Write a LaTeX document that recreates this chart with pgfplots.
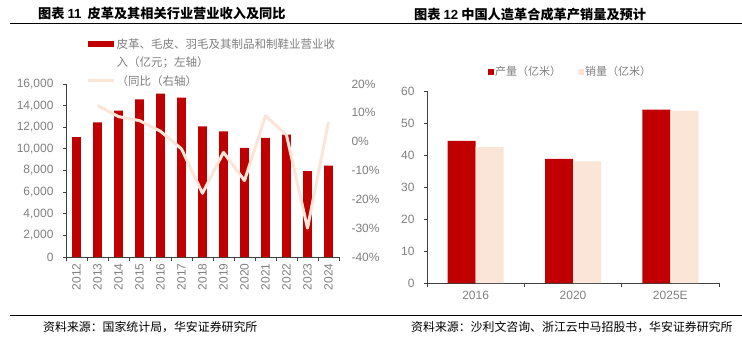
\documentclass[border=0pt]{standalone}
\usepackage{pgfplots}
\pgfplotsset{compat=1.18}
\usepackage{fontspec}
\setmainfont{Liberation Sans}
\newfontfamily\cjk{Noto Sans CJK SC}
\definecolor{barred}{HTML}{C00000}
\definecolor{peach}{HTML}{FBE5D6}
\definecolor{tickgrey}{HTML}{7F7F7F}
\definecolor{axisgrey}{HTML}{404040}
\begin{document}
\begin{tikzpicture}
\path[use as bounding box] (0pt,0pt) rectangle (742pt,341pt);
% titles
\node[anchor=west, inner sep=0pt, font=\cjk\bfseries\fontsize{13.2}{15}\selectfont] at (38pt,327pt) {图表 {\rmfamily\bfseries 11}\ \ 皮革及其相关行业营业收入及同比};
\node[anchor=west, inner sep=0pt, font=\cjk\bfseries\fontsize{13.2}{15}\selectfont] at (414pt,327pt) {图表 {\rmfamily\bfseries 12} 中国人造革合成革产销量及预计};
\draw[line width=0.9pt] (10pt,318pt) -- (742pt,318pt);
\draw[line width=0.9pt] (10pt,26pt) -- (742pt,26pt);
\node[anchor=west, inner sep=0pt, font=\cjk\fontsize{11.9}{14}\selectfont] at (43pt,14pt) {资料来源：国家统计局，华安证券研究所};
\node[anchor=west, inner sep=0pt, font=\cjk\fontsize{11.9}{14}\selectfont] at (411pt,14pt) {资料来源：沙利文咨询、浙江云中马招股书，华安证券研究所};

% left chart: bars
\begin{axis}[
  at={(66pt,84pt)}, anchor=south west, scale only axis,
  width=273pt, height=173pt,
  ybar, bar width=8.7pt,
  xmin=2011.5, xmax=2024.5, ymin=0, ymax=16000,
  enlargelimits=false,
  scaled y ticks=false,
  axis x line*=bottom, axis y line*=left,
  axis line style={axisgrey, line width=0.8pt},
  tick align=outside, tick style={axisgrey, line width=0.8pt},
  major tick length=3pt, minor tick length=4pt,
  xtick={2012,2013,...,2024}, major x tick style={draw=none},
  minor xtick={2011.5,2012.5,...,2024.5},
  ytick={0,2000,...,16000},
  /pgf/number format/assume math mode=true,
  ticklabel style={font=\fontsize{12}{14}\selectfont, text=tickgrey},
  xticklabel style={rotate=90, anchor=east, /pgf/number format/1000 sep={}},
  yticklabel style={xshift=-6pt, /pgf/number format/1000 sep={,}},
  legend style={at={(0.073,1.272)}, anchor=north west, draw=none, fill=none,
    font=\cjk\fontsize{11.5}{14}\selectfont, text=tickgrey, inner sep=0pt,
    row sep=4pt, nodes={inner sep=1.5pt}},
  legend cell align=left,
]
\addplot[fill=barred, draw=none,
  legend image code/.code={\fill[barred] (0pt,-3pt) rectangle (26pt,3pt);}]
coordinates {(2012,11080) (2013,12460) (2014,13540) (2015,14580) (2016,15110) (2017,14740) (2018,12090) (2019,11630) (2020,10090) (2021,11015) (2022,11320) (2023,7940) (2024,8460)};
\addlegendentry{皮革、毛皮、羽毛及其制品和制鞋业营业收}
\addlegendimage{empty legend}
\addlegendentry{入（亿元；左轴）}
\addlegendimage{legend image code/.code={\draw[peach, line width=3pt] (0pt,0pt) -- (26pt,0pt);}}
\addlegendentry{（同比（右轴）}
\end{axis}

% left chart: line on right axis
\begin{axis}[
  at={(66pt,84pt)}, anchor=south west, scale only axis,
  width=273pt, height=173pt,
  xmin=2011.5, xmax=2024.5, ymin=-40, ymax=20,
  enlargelimits=false,
  axis x line=none, axis y line*=right,
  y axis line style={draw=none}, ytick style={draw=none},
  ytick={-40,-30,...,20},
  yticklabels={-40\%,-30\%,-20\%,-10\%,0\%,10\%,20\%},
  yticklabel style={font=\fontsize{12}{14}\selectfont, text=tickgrey, xshift=9pt},
]
\addplot[peach, line width=3pt, line join=round]
coordinates {(2013,12.5) (2014,8.7) (2015,7.3) (2016,3.6) (2017,-2.5) (2018,-17.9) (2019,-3.7) (2020,-13.5) (2021,9.0) (2022,2.3) (2023,-30.0) (2024,6.9)};
\end{axis}

% right chart
\begin{axis}[
  at={(427pt,58pt)}, anchor=south west, scale only axis,
  width=292pt, height=192pt,
  ybar=0pt, bar width=28pt,
  xmin=-0.5, xmax=2.5, ymin=0, ymax=60,
  enlargelimits=false,
  axis x line*=bottom, axis y line*=left,
  axis line style={axisgrey, line width=0.8pt},
  tick align=outside, tick style={axisgrey, line width=0.8pt},
  major tick length=3pt, minor tick length=4pt,
  xtick={0,1,2}, xticklabels={2016,2020,2025E}, major x tick style={draw=none},
  minor xtick={-0.5,0.5,1.5,2.5},
  ytick={0,10,...,60},
  /pgf/number format/assume math mode=true,
  ticklabel style={font=\fontsize{12}{14}\selectfont, text=tickgrey},
  yticklabel style={xshift=-6pt},
  xticklabel style={yshift=-2pt},
  legend columns=2,
  legend style={at={(0.49,1.099)}, anchor=center, draw=none, fill=none,
    font=\cjk\fontsize{11}{13}\selectfont, text=tickgrey, inner sep=0pt,
    nodes={inner sep=1pt},
    /tikz/every even column/.append style={column sep=16pt}},
]
\addplot[fill=barred, draw=none,
  legend image code/.code={\fill[barred] (0pt,-3pt) rectangle (6pt,3pt);}]
coordinates {(0,44.4) (1,38.8) (2,54.2)};
\addlegendentry{产量（亿米）}
\addplot[fill=peach, draw=none,
  legend image code/.code={\fill[peach] (0pt,-3pt) rectangle (6pt,3pt);}]
coordinates {(0,42.5) (1,38.0) (2,53.9)};
\addlegendentry{销量（亿米）}
\end{axis}
\end{tikzpicture}
\end{document}
